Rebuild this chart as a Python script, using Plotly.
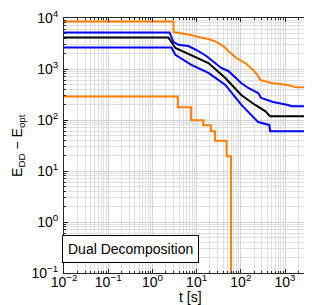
import plotly.graph_objects as go

# ---- data ----
orange_top_t = [0.01, 3.0, 3.0, 7.1, 11, 18.5, 26.5, 40, 52, 79, 126, 190, 247, 274, 484, 1170, 1770, 5000]
orange_top_E = [8500, 8500, 5300, 4710, 4240, 3870, 3490, 2820, 2250, 1640, 1310, 960, 730, 610, 530, 485, 437, 437]

blue_up_t = [0.01, 2.44, 3.0, 3.9, 6.5, 11, 16.6, 26.5, 36, 52, 102, 147, 247, 288, 537, 1170, 1400, 5000]
blue_up_E = [5200, 5200, 3380, 2990, 2820, 2250, 1800, 1310, 1050, 915, 530, 424, 338, 270, 225, 197, 186, 186]

black_t = [0.01, 2.3, 3.3, 7.6, 18.5, 44.6, 102, 211, 355, 460, 5000]
black_E = [4150, 4150, 2580, 1880, 1310, 667, 309, 197, 150, 118, 118]

blue_lo_t = [0.01, 2.7, 3.3, 7.6, 18.5, 44.6, 102, 247, 414, 440, 460, 5000]
blue_lo_E = [2640, 2640, 1900, 1210, 836, 486, 200, 91, 81, 81, 60, 60]

orange_lo_t = [0.01, 3.75, 7.5, 14.2, 21, 26, 47.6, 60, 60]
orange_lo_E = [290, 177, 99, 79, 60, 39, 19.4, 19.4, 1e-4]

xtick_vals = [0.01, 0.1, 1, 10, 100, 1000]
xtick_text = ["10<sup>−2</sup>", "10<sup>−1</sup>", "10<sup>0</sup>", "10<sup>1</sup>", "10<sup>2</sup>", "10<sup>3</sup>"]
ytick_vals = [0.1, 1, 10, 100, 1000, 10000]
ytick_text = ["10<sup>−1</sup>", "10<sup>0</sup>", "10<sup>1</sup>", "10<sup>2</sup>", "10<sup>3</sup>", "10<sup>4</sup>"]

ORANGE = "#FF8000"
BLUE = "#0000FF"
FONT = "Liberation Sans, Arial, sans-serif"

fig = go.Figure()
fig.add_trace(go.Scatter(x=orange_top_t, y=orange_top_E, mode="lines",
                         line=dict(color=ORANGE, width=2)))
fig.add_trace(go.Scatter(x=blue_up_t, y=blue_up_E, mode="lines",
                         line=dict(color=BLUE, width=2)))
fig.add_trace(go.Scatter(x=black_t, y=black_E, mode="lines",
                         line=dict(color="black", width=2)))
fig.add_trace(go.Scatter(x=blue_lo_t, y=blue_lo_E, mode="lines",
                         line=dict(color=BLUE, width=2)))
fig.add_trace(go.Scatter(x=orange_lo_t, y=orange_lo_E, mode="lines",
                         line=dict(color=ORANGE, width=2, shape="hv")))

axis_common = dict(
    showline=True, linecolor="#262626", linewidth=1, mirror="allticks",
    ticks="inside", ticklen=4, tickcolor="#262626", automargin=False,
    showgrid=True, gridcolor="#d4d4d4", gridwidth=1, zeroline=False,
    minor=dict(dtick="D1", showgrid=True, gridcolor="#dedede", gridwidth=1,
               ticks="inside", ticklen=2, tickcolor="#262626"),
    tickfont=dict(family=FONT, size=14, color="black"),
)

fig.update_xaxes(type="log", range=[-2, 3.7], tickvals=xtick_vals, ticktext=xtick_text,
                 ticklabelstandoff=-4, **axis_common)
fig.update_yaxes(type="log", range=[-1, 4], tickvals=ytick_vals, ticktext=ytick_text,
                 ticklabelstandoff=2, **axis_common)

# axis titles
fig.add_annotation(xref="paper", yref="paper", x=0.5, y=-0.096, xanchor="center", yanchor="middle",
                   text="t [s]", showarrow=False, font=dict(family=FONT, size=14, color="black"))
fig.add_annotation(xref="paper", yref="paper", x=-0.185, y=0.5, xanchor="center", yanchor="middle",
                   text="E<sub>DD</sub> − E<sub>opt</sub>", textangle=-90, showarrow=False,
                   font=dict(family=FONT, size=14, color="black"))

fig.add_annotation(xref="paper", yref="paper", x=-0.008, y=0.04, xanchor="left", yanchor="bottom",
                   text="Dual Decomposition", showarrow=False,
                   font=dict(family=FONT, size=14, color="black"),
                   bgcolor="white", bordercolor="black", borderwidth=1, borderpad=5)

fig.update_layout(width=312, height=305, margin=dict(l=56, r=4, t=10, b=40),
                  paper_bgcolor="white", plot_bgcolor="white", showlegend=False)

fig.write_html("out.html")
